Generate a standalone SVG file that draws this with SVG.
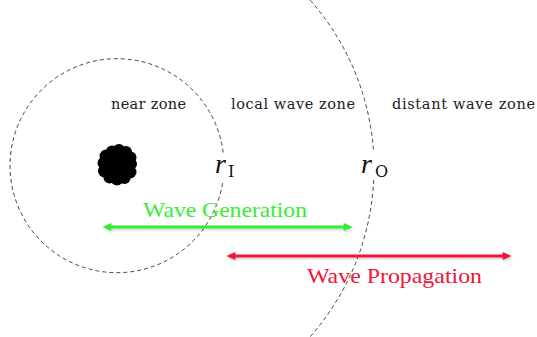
<svg xmlns="http://www.w3.org/2000/svg" width="537" height="337" viewBox="0 0 537 337">
<style>
.bd{fill:none;stroke:#444;stroke-width:1;stroke-dasharray:4 3}
.zone{font-family:"DejaVu Serif","Liberation Serif",serif;font-size:14.5px;fill:#222}
.lab{font-family:"Liberation Serif","DejaVu Serif",serif;font-size:21px}
.r{font-family:"Liberation Serif","DejaVu Serif",serif;font-style:italic;font-size:28px;fill:#111}
.sub{font-family:"DejaVu Serif","Liberation Serif",serif;font-size:16px;fill:#111}
</style>
<defs>
<marker id="ag" viewBox="0 0 10 10" refX="6" refY="5" markerWidth="10" markerHeight="9" markerUnits="userSpaceOnUse" orient="auto-start-reverse"><path d="M0,0.5 L10,5 L0,9.5 Z" fill="#33ee33"/></marker>
<marker id="ar" viewBox="0 0 10 10" refX="6" refY="5" markerWidth="10" markerHeight="9" markerUnits="userSpaceOnUse" orient="auto-start-reverse"><path d="M0,0.5 L10,5 L0,9.5 Z" fill="#f01438"/></marker>
<filter id="sh" filterUnits="userSpaceOnUse" x="0" y="0" width="537" height="337"><feDropShadow dx="1" dy="1.5" stdDeviation="1" flood-color="#000" flood-opacity="0.2"/></filter>
</defs>
<rect width="537" height="337" fill="#fff"/>
<g id="inner-boundary">
<path class="bd" d="M223.2 152.5 A107 107 0 1 0 223 180.4"/>
</g>
<g id="outer-boundary">
<path class="bd" d="M305.5 -5 A255 255 0 0 1 373.4 150"/>
<path class="bd" d="M373.7 180 A255 255 0 0 1 305.4 342"/>
</g>
<g id="source" fill="#000">
<circle cx="117.5" cy="165" r="15"/>
<circle cx="131" cy="164" r="6"/>
<circle cx="130" cy="172" r="6.5"/>
<circle cx="124.5" cy="178" r="6"/>
<circle cx="117" cy="179" r="6.5"/>
<circle cx="109.5" cy="177.5" r="6"/>
<circle cx="104.5" cy="171" r="6.5"/>
<circle cx="103.5" cy="163" r="6"/>
<circle cx="106" cy="156" r="6.5"/>
<circle cx="112" cy="151.5" r="6"/>
<circle cx="119" cy="150.5" r="6.5"/>
<circle cx="126" cy="152" r="6"/>
<circle cx="130.5" cy="157.5" r="6"/>
</g>
<g id="zones">
<text class="zone" x="111" y="109" textLength="75" lengthAdjust="spacing">near zone</text>
<text class="zone" x="231" y="109" textLength="124" lengthAdjust="spacing">local wave zone</text>
<text class="zone" x="392" y="109" textLength="143" lengthAdjust="spacing">distant wave zone</text>
</g>
<g id="rI"><text x="215" y="173"><tspan class="r">r</tspan><tspan class="sub" x="228" y="177">I</tspan></text></g>
<g id="rO"><text x="361" y="173"><tspan class="r">r</tspan><tspan class="sub" x="375" y="177">O</tspan></text></g>
<g id="connectors" filter="url(#sh)">
<line x1="106" y1="227" x2="349" y2="227" stroke="#33ee33" stroke-width="3" marker-start="url(#ag)" marker-end="url(#ag)"/>
<line x1="230" y1="256" x2="508" y2="256" stroke="#f01438" stroke-width="3" marker-start="url(#ar)" marker-end="url(#ar)"/>
</g>
<g id="labels">
<text class="lab" x="143" y="217" fill="#33ee33" textLength="164" lengthAdjust="spacingAndGlyphs">Wave Generation</text>
<text class="lab" x="307" y="283" fill="#f01438" textLength="175" lengthAdjust="spacingAndGlyphs">Wave Propagation</text>
</g>
</svg>
